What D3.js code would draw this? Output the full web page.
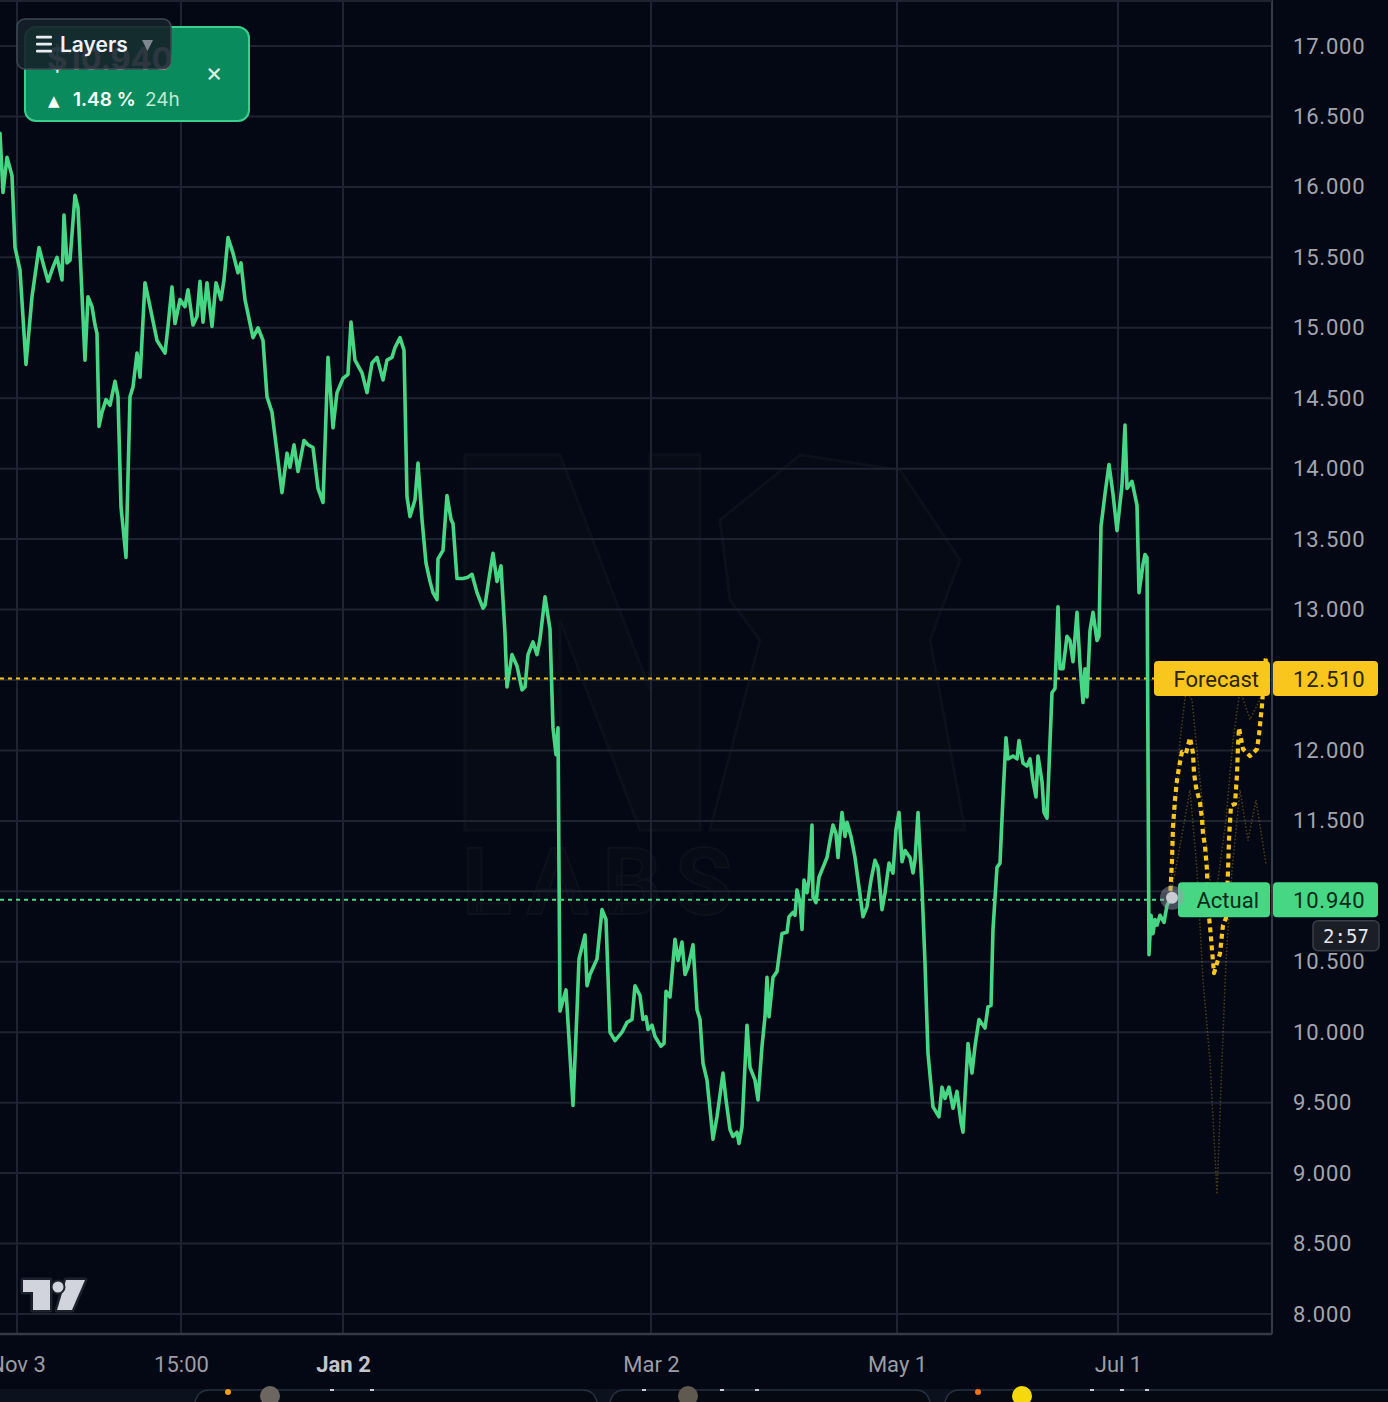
<!DOCTYPE html>
<html><head><meta charset="utf-8">
<script src="https://cdn.jsdelivr.net/npm/d3@7"></script>
<style>
html,body{margin:0;padding:0;background:#040814;}
svg{display:block;}
</style></head><body>
<svg id="chart" width="1388" height="1402"></svg>
<script>
// ---------------- DATA ----------------
const priceTicks = [8,8.5,9,9.5,10,10.5,11,11.5,12,12.5,13,13.5,14,14.5,15,15.5,16,16.5,17];
const timeTickBars = [4.25,45.25,85.75,162.75,224.25,279.5];
const timeTickLabels = ["Nov 3","15:00","Jan 2","Mar 2","May 1","Jul 1"];
const timeTickStrong = [false,false,true,false,false,false];
const lastActual = 10.94;
const forecastValue = 12.51;
const changePct = "1.48";
const countdown = "2:57";

// [bar index, price]
const actualSeries = [
[0,16.38],[0.75,15.96],[1.75,16.21],[3,16.08],[3.75,15.57],[5,15.41],[6.5,14.74],[8,15.22],[9.75,15.57],[10.75,15.46],
[12,15.33],[13.25,15.43],[14.25,15.50],[15.5,15.34],[16,15.80],[16.75,15.46],[17.5,15.48],[18.75,15.94],[19.5,15.85],[21.25,14.77],
[22,15.22],[23,15.15],[23.75,15.02],[24.25,14.96],[24.75,14.30],[25.5,14.40],[26.5,14.49],[27.5,14.45],[28.75,14.62],[29.5,14.51],
[30.25,13.73],[31.5,13.37],[32.5,14.51],[33.25,14.58],[34.25,14.82],[35,14.65],[36.25,15.32],[37,15.22],[39.25,14.91],[41.25,14.82],
[42,15.01],[43,15.29],[43.75,15.03],[45,15.20],[46.25,15.15],[47,15.27],[48.25,15.02],[49.25,15.08],[50,15.33],[50.75,15.04],
[51.75,15.32],[53,15.01],[54,15.32],[55.25,15.20],[56,15.34],[57,15.64],[58.25,15.53],[59.5,15.39],[60.25,15.46],[61.25,15.20],
[63.25,14.93],[64.5,15.00],[65.75,14.91],[66.75,14.51],[68,14.40],[70.5,13.83],[71.75,14.11],[72.5,14.01],[73.5,14.17],[74.5,13.98],
[76,14.20],[77,14.17],[78.25,14.15],[79.5,13.86],[80.75,13.76],[82,14.79],[83.25,14.29],[84.25,14.54],[85.75,14.64],[87,14.67],
[87.75,15.04],[88.75,14.77],[90.5,14.68],[91.75,14.54],[93,14.75],[94.25,14.79],[95.75,14.63],[96.75,14.77],[98,14.79],[98.75,14.86],
[100,14.93],[101,14.84],[101.75,13.80],[102.5,13.66],[103.75,13.78],[104.5,14.04],[105.5,13.64],[106.5,13.33],[107.5,13.20],[108.25,13.12],
[109.25,13.07],[109.5,13.36],[110.75,13.42],[111.75,13.81],[112.75,13.64],[113.25,13.61],[114.25,13.22],[115.75,13.22],[117,13.23],[118,13.25],
[119.25,13.12],[120.75,13.01],[121.25,13.03],[122.25,13.22],[123.25,13.40],[124.25,13.20],[125.25,13.31],[126.25,12.83],[126.75,12.45],[128,12.68],
[129.25,12.60],[130.5,12.43],[131.25,12.45],[132,12.68],[133.25,12.77],[134.25,12.68],[135,12.79],[136.25,13.09],[137.5,12.86],[138.25,12.16],
[139,11.97],[139.5,12.16],[140,10.15],[141.5,10.30],[142,10.07],[143.25,9.48],[144.25,10.15],[144.75,10.52],[146.25,10.69],[146.75,10.33],
[147.5,10.41],[149.25,10.52],[150.5,10.87],[151.5,10.80],[152.5,10.00],[153.75,9.94],[155.5,10.00],[156.75,10.07],[158,10.09],[158.75,10.33],
[160,10.26],[160.75,10.09],[161.5,10.11],[162,10.02],[163,10.05],[163.75,9.97],[165.25,9.90],[166,9.92],[166.5,10.29],[167.5,10.25],
[168.75,10.66],[169.5,10.51],[170.5,10.64],[171.25,10.41],[172,10.46],[173.25,10.62],[174.25,10.16],[175,10.09],[175.75,9.78],[176.75,9.66],
[178.25,9.24],[179.25,9.40],[180.75,9.71],[181.5,9.52],[182.5,9.31],[183.25,9.26],[184.25,9.29],[184.75,9.21],[185.5,9.33],[186.75,10.05],
[187.5,9.75],[188.75,9.66],[189.5,9.52],[190.5,9.90],[191.25,10.11],[191.75,10.39],[192.25,10.11],[193.25,10.39],[194.25,10.43],[195.5,10.70],
[196.75,10.71],[197.25,10.82],[198.25,10.85],[198.75,10.83],[199.25,11.01],[200,10.92],[200.5,10.73],[201,11.08],[201.75,10.99],[202.25,11.08],
[203,11.47],[203.25,10.96],[204,10.92],[204.75,11.10],[205.75,11.17],[206.75,11.24],[207.5,11.36],[208.25,11.47],[209,11.41],[209.5,11.24],
[210.5,11.56],[211.25,11.39],[211.75,11.49],[212.75,11.39],[213.75,11.24],[214.5,11.08],[215.75,10.82],[216.75,10.89],[217.75,11.08],[218.75,11.22],
[219.5,11.17],[220.5,10.87],[221.25,10.99],[222.25,11.20],[223.25,11.13],[224,11.44],[224.75,11.56],[225.5,11.21],[226.25,11.29],[227.5,11.24],
[228.25,11.13],[228.75,11.22],[229.5,11.56],[230.5,11.03],[231.25,10.49],[232,9.85],[233.25,9.47],[234.75,9.40],[235.5,9.61],[236.25,9.53],
[237.25,9.61],[238.25,9.46],[239.25,9.58],[240.25,9.36],[240.75,9.29],[242,9.92],[243,9.71],[243.75,9.90],[244.75,10.09],[246.25,10.03],
[247,10.18],[247.75,10.19],[248.25,10.73],[249.25,11.17],[250,11.20],[250.75,11.67],[251.5,12.09],[252,11.94],[253.25,11.96],[254.25,11.94],
[254.75,12.07],[255.75,11.91],[256.75,11.89],[257.5,11.94],[258.25,11.78],[259,11.67],[259.5,11.96],[260.5,11.78],[261,11.56],[261.75,11.52],
[262.25,11.88],[263,12.41],[263.75,12.44],[264.5,13.02],[265,12.58],[265.75,12.58],[266.75,12.81],[267.5,12.78],[268.25,12.63],[269.25,12.98],
[270,12.61],[270.75,12.34],[271.25,12.58],[271.75,12.38],[272.5,12.85],[273.25,12.98],[274.25,12.78],[274.75,12.81],[275.25,13.59],[276.25,13.82],
[277.25,14.03],[278.25,13.82],[279.25,13.56],[280.5,13.88],[281.25,14.31],[281.75,13.86],[283,13.91],[284.25,13.74],[284.75,13.12],[285.75,13.32],
[286.25,13.39],[286.75,13.37],[287.25,10.55],[287.75,10.83],[288.25,10.70],[288.75,10.80],[289.25,10.76],[290,10.83],[291,10.78],[291.75,10.90],
[292.5,10.94]
];
const forecastSeries = [
[292.5,10.94],[293,11.22],[293.25,11.46],[293.75,11.65],[294.25,11.79],[294.75,11.88],[295.5,11.99],[296.5,11.98],[297.5,12.09],[298.25,11.98],
[298.5,11.84],[299,11.74],[300,11.63],[300.5,11.51],[300.75,11.41],[301.25,11.32],[301.75,11.15],[302,10.89],[302.5,10.75],[303.5,10.42],
[305,10.56],[305.75,10.76],[306.5,10.81],[307,11.14],[307.25,11.37],[307.75,11.61],[308.75,11.62],[309.25,11.83],[309.5,12.03],[309.75,12.16],
[310.75,12.01],[312.5,11.96],[314.25,12.01],[314.75,12.11],[315.5,12.32],[316,12.51],[316.5,12.67]
];
const forecastUpper = [
[292.5,10.94],[295,12.07],[296.5,12.43],[298,12.36],[299.5,11.93],[301.25,11.44],[303,10.94],[304.5,11.08],[306.5,11.51],[308.25,12.07],
[310,12.43],[312.5,12.22],[315,12.36],[317,12.64]
];
const forecastLower = [
[292.5,10.94],[295.75,11.44],[297.5,11.72],[299.25,11.15],[300.75,10.37],[302.5,9.80],[304.25,8.85],[305.5,9.80],[306.5,10.51],[308,11.15],
[310,11.72],[312,11.36],[314,11.65],[316.5,11.19]
];

// ---------------- LAYOUT ----------------
const W = 1388, H = 1402, plotR = 1272, plotB = 1334;
const BG = "#040814", GRID = "#1d2330", BORDER = "#343946";
const GREEN = "#47d684", YELLOW = "#f8c61c";
const AXIS_FONT = "Roboto, 'Open Sans', sans-serif";

const svg = d3.select("#chart");
const x = d3.scaleLinear().domain([0, 318]).range([0, plotR]);
const y = d3.scaleLinear().domain([8, 17]).range([1314, 46]);

svg.append("rect").attr("width", W).attr("height", H).attr("fill", BG);

const defs = svg.append("defs");
defs.append("clipPath").attr("id", "plotClip").append("rect")
  .attr("x", 0).attr("y", 0).attr("width", plotR).attr("height", plotB);

const plot = svg.append("g").attr("clip-path", "url(#plotClip)");

// faint watermark
const wm = plot.append("g");
wm.append("path")
  .attr("d", "M465,455 L560,455 L650,690 L650,455 L700,455 L700,830 L640,830 L560,620 L560,830 L465,830 Z")
  .attr("fill", "#070b16").attr("stroke", "#0b101b").attr("stroke-width", 3);
wm.append("path")
  .attr("d", "M720,520 L800,455 L900,470 L960,560 L930,640 L965,830 L710,830 L760,640 L730,600 Z")
  .attr("fill", "#060a15").attr("stroke", "#0b101b").attr("stroke-width", 3);
wm.append("text").attr("x", 462).attr("y", 914)
  .attr("font-family", "Roboto, sans-serif").attr("font-size", 92).attr("font-weight", 700)
  .attr("letter-spacing", 14).attr("fill", "#070b16").attr("stroke", "#0c111c").attr("stroke-width", 2)
  .text("LABS");

// grid
plot.append("g").selectAll("line").data(priceTicks).join("line")
  .attr("x1", 0).attr("x2", plotR)
  .attr("y1", d => y(d)).attr("y2", d => y(d))
  .attr("stroke", GRID).attr("stroke-width", 2);
plot.append("g").selectAll("line").data(timeTickBars).join("line")
  .attr("x1", d => x(d)).attr("x2", d => x(d))
  .attr("y1", 0).attr("y2", plotB)
  .attr("stroke", GRID).attr("stroke-width", 2);

// level lines
plot.append("line").attr("x1", 0).attr("x2", x(288.5))
  .attr("y1", y(forecastValue)).attr("y2", y(forecastValue))
  .attr("stroke", YELLOW).attr("stroke-width", 2).attr("stroke-dasharray", "4 4");
plot.append("line").attr("x1", 0).attr("x2", x(292.5))
  .attr("y1", y(lastActual)).attr("y2", y(lastActual))
  .attr("stroke", GREEN).attr("stroke-width", 2).attr("stroke-dasharray", "4 4");

// forecast bands (faint)
const line = d3.line().x(d => x(d[0])).y(d => y(d[1])).curve(d3.curveLinear);
[forecastUpper, forecastLower].forEach(s => {
  plot.append("path").attr("d", line(s)).attr("fill", "none")
    .attr("stroke", YELLOW).attr("stroke-opacity", 0.3).attr("stroke-width", 1.5)
    .attr("stroke-dasharray", "1.5 2");
});

// actual line
plot.append("path").attr("d", line(actualSeries)).attr("fill", "none")
  .attr("stroke", GREEN).attr("stroke-width", 3.6)
  .attr("stroke-linejoin", "round").attr("stroke-linecap", "round");

// forecast line
plot.append("path").attr("d", line(forecastSeries)).attr("fill", "none")
  .attr("stroke", YELLOW).attr("stroke-width", 4.2)
  .attr("stroke-dasharray", "5 4").attr("stroke-linejoin", "round");

// borders
svg.append("line").attr("x1", plotR).attr("x2", plotR).attr("y1", 0).attr("y2", plotB)
  .attr("stroke", BORDER).attr("stroke-width", 2);
svg.append("line").attr("x1", 0).attr("x2", plotR).attr("y1", plotB).attr("y2", plotB)
  .attr("stroke", BORDER).attr("stroke-width", 2.5);
svg.append("line").attr("x1", 0).attr("x2", plotR).attr("y1", 1).attr("y2", 1)
  .attr("stroke", GRID).attr("stroke-width", 2);

// y axis (right) — labels hidden under the price tags are not drawn
const hiddenUnderTag = d => Math.abs(d - forecastValue) < 0.15 || Math.abs(d - lastActual) < 0.15;
const yAxis = d3.axisRight(y).tickValues(priceTicks)
  .tickFormat(d => hiddenUnderTag(d) ? "" : d3.format(".3f")(d))
  .tickSize(0).tickPadding(21);
const yg = svg.append("g").attr("transform", `translate(${plotR},0)`).call(yAxis);
yg.select(".domain").remove();
yg.selectAll("text").attr("font-family", AXIS_FONT).attr("font-size", 22)
  .attr("fill", "#a2a5ae").attr("letter-spacing", 0.8);

// x axis (bottom)
const xAxis = d3.axisBottom(x).tickValues(timeTickBars)
  .tickFormat((d, i) => timeTickLabels[i]).tickSize(0).tickPadding(22);
const xg = svg.append("g").attr("transform", `translate(0,${plotB})`).call(xAxis);
xg.select(".domain").remove();
xg.selectAll("text").attr("font-family", AXIS_FONT).attr("font-size", 22)
  .attr("fill", (d, i) => timeTickStrong[i] ? "#c2c5cc" : "#9a9da6")
  .attr("font-weight", (d, i) => timeTickStrong[i] ? 700 : 400);

// price tags on axis
function tag(value, label, color, leftX, textColor) {
  const cy = y(value), h = 35;
  svg.append("rect").attr("x", leftX).attr("y", cy - h / 2).attr("width", plotR - 2 - leftX).attr("height", h)
    .attr("rx", 4).attr("fill", color);
  svg.append("rect").attr("x", plotR + 1).attr("y", cy - h / 2).attr("width", 1378 - plotR - 1).attr("height", h)
    .attr("rx", 4).attr("fill", color);
  svg.append("text").attr("x", plotR - 13).attr("y", cy).attr("dy", "0.36em")
    .attr("text-anchor", "end").attr("font-family", AXIS_FONT).attr("font-size", 22)
    .attr("fill", textColor).text(label);
  svg.append("text").attr("x", plotR + 21).attr("y", cy).attr("dy", "0.36em")
    .attr("font-family", AXIS_FONT).attr("font-size", 22).attr("letter-spacing", 0.8)
    .attr("fill", textColor).text(d3.format(".3f")(value));
}
tag(forecastValue, "Forecast", YELLOW, x(288.5), "#2a2306");
tag(lastActual, "Actual", GREEN, x(294.5), "#0d2b1a");

// current point marker
const px = x(actualSeries[actualSeries.length - 1][0]) + 2, py = y(lastActual) - 2;
svg.append("circle").attr("cx", px).attr("cy", py).attr("r", 12).attr("fill", "#9aa0ad").attr("opacity", 0.45);
svg.append("circle").attr("cx", px).attr("cy", py).attr("r", 6).attr("fill", "#c9ccd4");

// countdown
svg.append("rect").attr("x", 1313).attr("y", y(lastActual) + 21).attr("width", 66).attr("height", 30)
  .attr("rx", 5).attr("fill", "#1b1e26").attr("stroke", "#3a3e48").attr("stroke-width", 1.5);
svg.append("text").attr("x", 1346).attr("y", y(lastActual) + 36).attr("dy", "0.36em")
  .attr("text-anchor", "middle").attr("font-family", "'DejaVu Sans Mono', monospace").attr("font-size", 19)
  .attr("fill", "#e4e6ea").text(countdown);

// TradingView logo
const logo = svg.append("g");
const logoShapes = [
  "M23,1280 L50,1280 L50,1310 L33,1310 L33,1292 L23,1292 Z",
  "M66,1280 L85,1280 L72,1310 L57,1310 Z"
];
logoShapes.forEach(d => logo.append("path").attr("d", d).attr("fill", "#d1d4dc")
  .attr("stroke", "#1d212b").attr("stroke-width", 5).attr("paint-order", "stroke").attr("stroke-linejoin", "round"));
logo.append("circle").attr("cx", 58).attr("cy", 1287).attr("r", 5.5).attr("fill", "#d1d4dc")
  .attr("stroke", "#1d212b").attr("stroke-width", 4).attr("paint-order", "stroke");

// bottom strip
svg.append("rect").attr("x", 0).attr("y", 1389).attr("width", W).attr("height", 13).attr("fill", "#0c121d");
[[195, 597], [610, 930], [945, 1400]].forEach(([a, b]) => {
  svg.append("path").attr("d", `M${a},1402 Q${a + 3},1390 ${a + 14},1390 L${b - 14},1390 Q${b - 3},1390 ${b},1402`)
    .attr("fill", "#050912").attr("stroke", "#273040").attr("stroke-width", 1.5);
});
[[228, "#f59e0b"], [978, "#f97316"]].forEach(([cx, c]) =>
  svg.append("circle").attr("cx", cx).attr("cy", 1392).attr("r", 3).attr("fill", c));
[[270, "#6b6760"], [688, "#5e5a50"], [1022, "#f5d90a"]].forEach(([cx, c]) =>
  svg.append("circle").attr("cx", cx).attr("cy", 1396).attr("r", 10).attr("fill", c));
[330, 370, 642, 720, 755, 1090, 1120, 1145].forEach(cx =>
  svg.append("rect").attr("x", cx).attr("y", 1389).attr("width", 4).attr("height", 2).attr("fill", "#c8ccd4"));

// price card
const card = svg.append("g");
card.append("rect").attr("x", 25).attr("y", 27).attr("width", 224).attr("height", 94).attr("rx", 11)
  .attr("fill", "#0a8b5d").attr("stroke", "#3bcf8e").attr("stroke-width", 2);
card.append("text").attr("x", 47).attr("y", 70).attr("font-family", "Inter, Roboto, sans-serif")
  .attr("font-size", 31).attr("font-weight", 700).attr("fill", "#ffffff").text("$10.940");
card.append("text").attr("x", 214).attr("y", 72).attr("dy", "0.35em").attr("text-anchor", "middle")
  .attr("font-family", "Inter, Roboto, sans-serif").attr("font-size", 26).attr("fill", "#d9f2e6").text("×");
card.append("text").attr("x", 48).attr("y", 106).attr("font-family", "'DejaVu Sans', sans-serif")
  .attr("font-size", 15).attr("fill", "#ffffff").text("▲");
card.append("text").attr("x", 73).attr("y", 106).attr("font-family", "Inter, Roboto, sans-serif")
  .attr("font-size", 19).attr("font-weight", 600).attr("fill", "#ffffff").text(changePct + " %");
card.append("text").attr("x", 145).attr("y", 106).attr("font-family", "Inter, Roboto, sans-serif")
  .attr("font-size", 19).attr("fill", "#bfe9d4").text("24h");

// layers button
const lb = svg.append("g");
lb.append("rect").attr("x", 17).attr("y", 19).attr("width", 154).attr("height", 50).attr("rx", 8)
  .attr("fill", "#16212a").attr("fill-opacity", 0.9).attr("stroke", "#3d4853").attr("stroke-width", 1.5);
[37, 44, 51].forEach(yy => lb.append("rect").attr("x", 36).attr("y", yy - 1.3).attr("width", 16).attr("height", 2.8)
  .attr("rx", 1).attr("fill", "#e9edf1"));
lb.append("text").attr("x", 60).attr("y", 52).attr("font-family", "Inter, Roboto, sans-serif")
  .attr("font-size", 21).attr("font-weight", 600).attr("fill", "#eef1f4").text("Layers");
lb.append("path").attr("d", "M142,40 L153,40 L147.5,51 Z").attr("fill", "#7e8690");
</script>
</body></html>
